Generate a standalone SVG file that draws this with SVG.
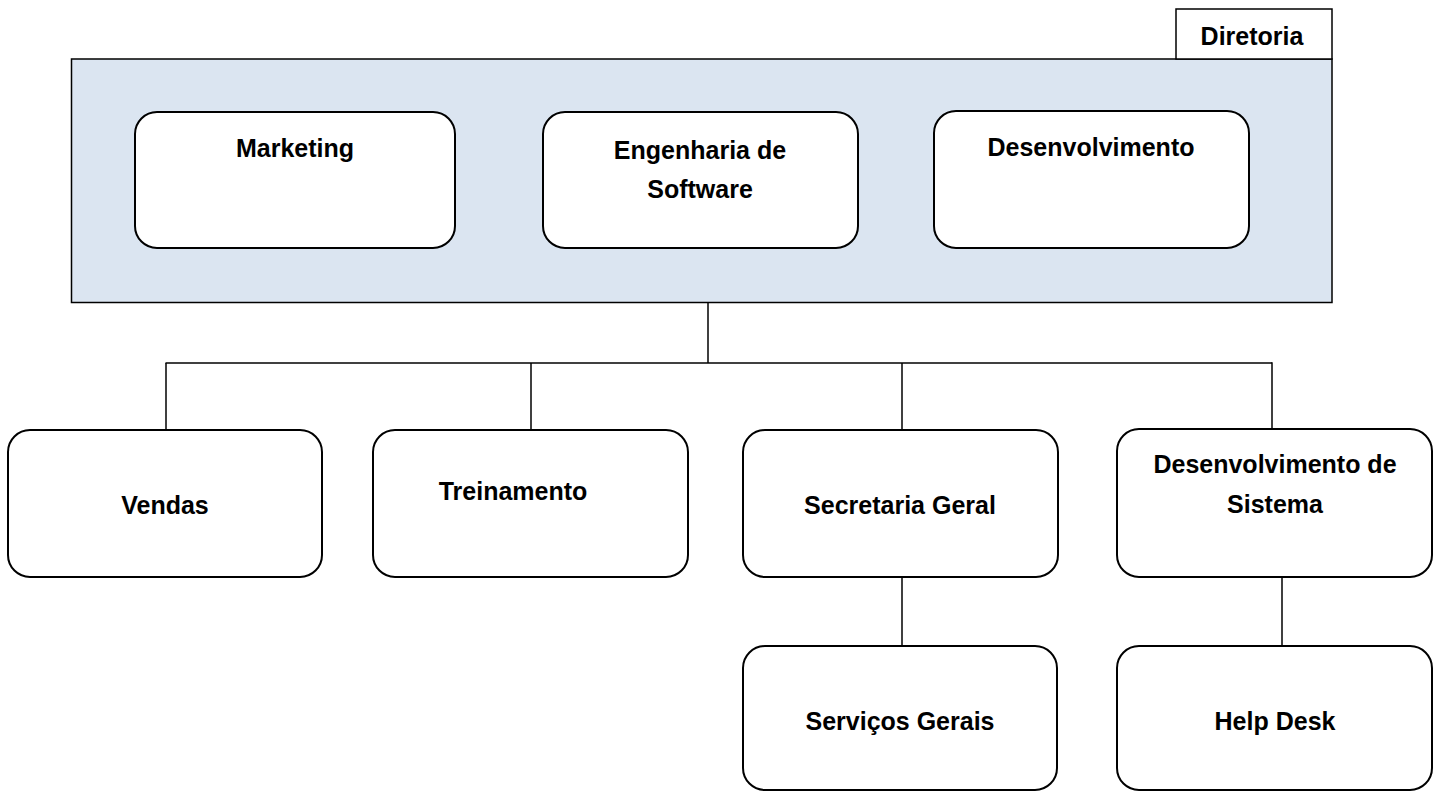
<svg xmlns="http://www.w3.org/2000/svg" width="1441" height="792" viewBox="0 0 1441 792">
<style>
  .box { fill: #ffffff; stroke: #000000; stroke-width: 2; }
  .frame { fill: #dbe5f1; stroke: #000000; stroke-width: 1.5; }
  .tab { fill: #ffffff; stroke: #000000; stroke-width: 1.5; }
  .lbl { font-family: "Liberation Sans", Arial, sans-serif; font-weight: bold; font-size: 25px; fill: #000000; text-anchor: middle; }
  .conn line { stroke: #000000; stroke-width: 1.5; }
</style>
<rect width="1441" height="792" fill="#ffffff"/>
<g id="diretoria">
  <rect class="frame" x="71.5" y="59" width="1260.5" height="243.5"/>
  <rect class="tab" x="1176" y="9" width="156" height="50"/>
  <text class="lbl" x="1252" y="45">Diretoria</text>
</g>
<g id="marketing">
  <rect class="box" x="135" y="112" width="320" height="136" rx="22"/>
  <text class="lbl" x="295" y="157">Marketing</text>
</g>
<g id="engenharia">
  <rect class="box" x="543" y="112" width="315" height="136" rx="22"/>
  <text class="lbl" x="700" y="159">Engenharia de</text>
  <text class="lbl" x="700" y="198">Software</text>
</g>
<g id="desenvolvimento">
  <rect class="box" x="934" y="111" width="315" height="137" rx="22"/>
  <text class="lbl" x="1091" y="156">Desenvolvimento</text>
</g>
<g id="connectors" class="conn">
  <line x1="708" y1="302.5" x2="708" y2="363"/>
  <line x1="165.5" y1="363" x2="1272" y2="363"/>
  <line x1="166" y1="363" x2="166" y2="430"/>
  <line x1="531" y1="363" x2="531" y2="430"/>
  <line x1="902" y1="363" x2="902" y2="430"/>
  <line x1="1272" y1="362.3" x2="1272" y2="430"/>
  <line x1="902" y1="577" x2="902" y2="646"/>
  <line x1="1282" y1="577" x2="1282" y2="646"/>
</g>
<g id="vendas">
  <rect class="box" x="8" y="430" width="314" height="147" rx="22"/>
  <text class="lbl" x="165" y="514">Vendas</text>
</g>
<g id="treinamento">
  <rect class="box" x="373" y="430" width="315" height="147" rx="22"/>
  <text class="lbl" x="513" y="500">Treinamento</text>
</g>
<g id="secretaria">
  <rect class="box" x="743" y="430" width="315" height="147" rx="22"/>
  <text class="lbl" x="900" y="514">Secretaria Geral</text>
</g>
<g id="desenvolvimento-sistema">
  <rect class="box" x="1117" y="429" width="315" height="148" rx="22"/>
  <text class="lbl" x="1275" y="473">Desenvolvimento de</text>
  <text class="lbl" x="1275" y="513">Sistema</text>
</g>
<g id="servicos">
  <rect class="box" x="743" y="646" width="314" height="144" rx="22"/>
  <text class="lbl" x="900" y="730">Serviços Gerais</text>
</g>
<g id="helpdesk">
  <rect class="box" x="1117" y="646" width="315" height="144" rx="22"/>
  <text class="lbl" x="1275" y="730">Help Desk</text>
</g>
</svg>
